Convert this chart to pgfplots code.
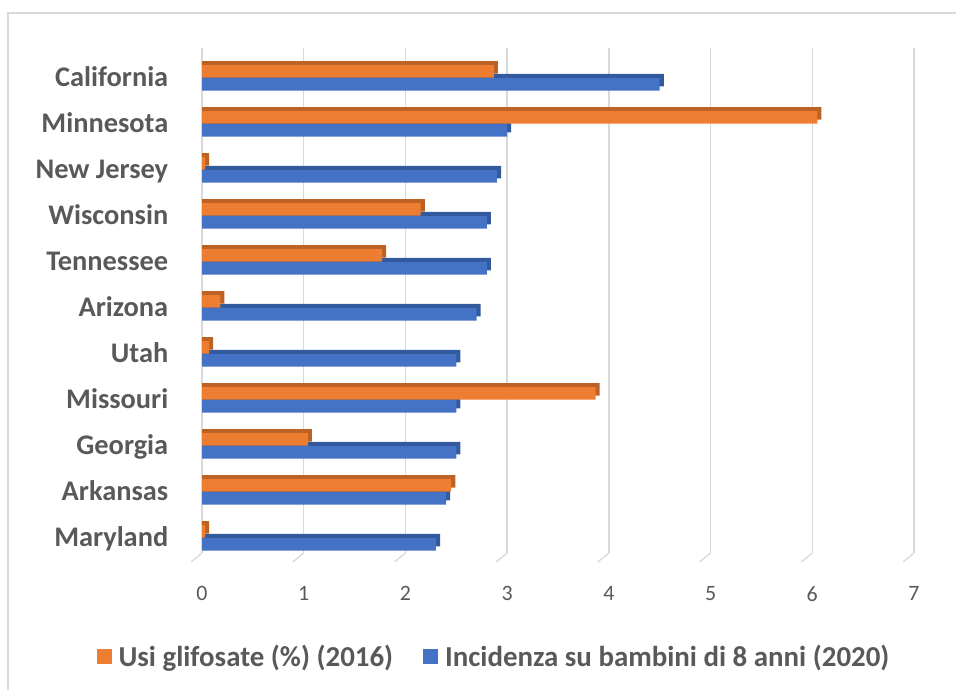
\documentclass[border=0pt]{standalone}
\usepackage{pgfplots}
\pgfplotsset{compat=1.18}
\usepackage{fontspec}
\setmainfont{Carlito}
\definecolor{cOr}{HTML}{ED7D31}
\definecolor{cBl}{HTML}{4472C4}
\definecolor{cOrD}{HTML}{BE6224}
\definecolor{cBlD}{HTML}{345A9E}
\definecolor{cTxt}{HTML}{595959}
\definecolor{cGrid}{HTML}{D9D9D9}
\begin{document}
\begin{tikzpicture}
\useasboundingbox (0,0) rectangle (956bp,-690bp);
\draw[cGrid, line width=1.2bp] (8bp,-690bp) -- (8bp,-13bp) -- (956bp,-13bp);
\begin{axis}[
  at={(202bp,-48bp)}, anchor=north west,
  scale only axis, width=712bp, height=505bp,
  xmin=0, xmax=7, ymin=-0.65, ymax=10.33,
  y dir=reverse,
  clip=false,
  axis line style={draw=none},
  major tick style={draw=none},
  xmajorgrids, grid style={cGrid, line width=1.3bp},
  xtick={0,1,...,7},
  ytick={0,...,10},
  yticklabels={California,Minnesota,New Jersey,Wisconsin,Tennessee,Arizona,Utah,Missouri,Georgia,Arkansas,Maryland},
  yticklabel style={font=\fontsize{28.5}{32}\selectfont\bfseries, text=cTxt,
    anchor=east, text height=0.65em, text depth=0.2em, xshift=-26bp, yshift=-6bp},
  xticklabel style={font=\fontsize{22}{26}\selectfont, text=cTxt, yshift=-30bp},
  /pgf/number format/assume math mode=true,
  xbar, bar width=12.5bp, bar shift=0pt,
  legend columns=2,
  legend style={at={(0.41,-0.205)}, anchor=center, draw=none, fill=none,
    font=\fontsize{29}{33}\selectfont\bfseries, text=cTxt,
    /tikz/every even column/.append style={column sep=28bp}},
  legend image code/.code={\fill[#1] (0bp,-7.5bp) rectangle (15bp,7.5bp); \path (20bp,0bp);},
]
\pgfplotsinvokeforeach{0,...,7}{
  \draw[cGrid, line width=1.3bp] (axis cs:#1,10.33) -- ++(-11bp,-9bp);
}
% blue 3D top/side faces
\addplot[fill=cBlD, draw=none, forget plot] coordinates {
 (4.54,0.05) (3.04,1.05) (2.94,2.05) (2.84,3.05) (2.84,4.05) (2.74,5.05)
 (2.54,6.05) (2.54,7.05) (2.54,8.05) (2.44,9.05) (2.34,10.05)};
\addplot[fill=cBl, draw=none, forget plot] coordinates {
 (4.5,0.14) (3.0,1.14) (2.9,2.14) (2.8,3.14) (2.8,4.14) (2.7,5.14)
 (2.5,6.14) (2.5,7.14) (2.5,8.14) (2.4,9.14) (2.3,10.14)};
% orange 3D top/side faces
\addplot[fill=cOrD, draw=none, forget plot] coordinates {
 (2.91,-0.23) (6.09,0.77) (0.07,1.77) (2.19,2.77) (1.81,3.77) (0.22,4.77)
 (0.11,5.77) (3.91,6.77) (1.08,7.77) (2.49,8.77) (0.07,9.77)};
\addplot[fill=cOr, draw=none] coordinates {
 (2.87,-0.14) (6.05,0.86) (0.03,1.86) (2.15,2.86) (1.77,3.86) (0.18,4.86)
 (0.07,5.86) (3.87,6.86) (1.04,7.86) (2.45,8.86) (0.03,9.86)};
\addlegendentry{Usi glifosate (\%) (2016)}
\addlegendimage{fill=cBl, draw=none}
\addlegendentry{Incidenza su bambini di 8 anni (2020)}
\end{axis}
\end{tikzpicture}
\end{document}
